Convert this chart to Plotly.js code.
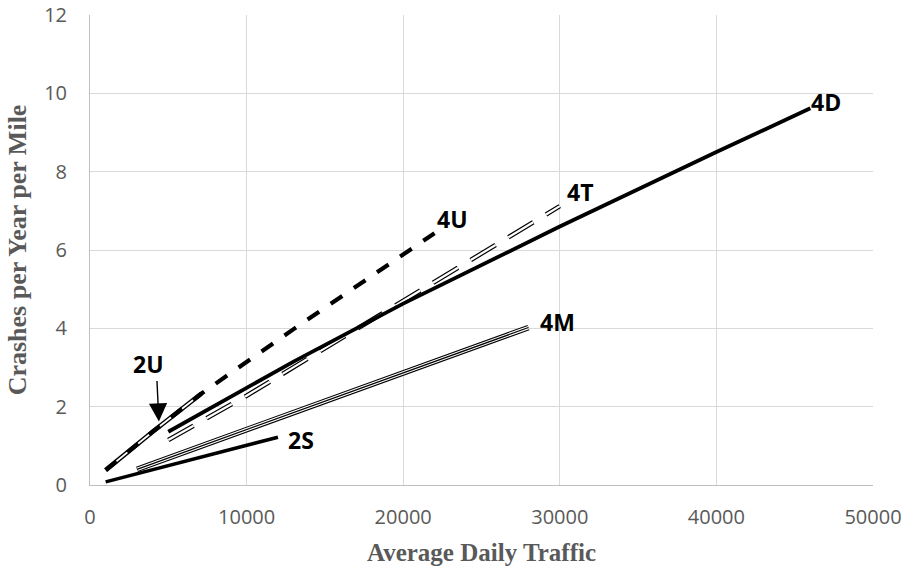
<!DOCTYPE html>
<html>
<head>
<meta charset="utf-8">
<script src="https://cdn.plot.ly/plotly-3.0.1.min.js"></script>
<style>
  html, body { margin: 0; padding: 0; background: #fff; }
  #chart { width: 904px; height: 571px; }
</style>
</head>
<body>
<div id="chart"></div>
<script>
// ---- Data ----
const adt2S = [1000, 6500, 12000];
const crash2S = [0.08, 0.64, 1.22];

const adt2U = [1000, 4000, 7100];
const crash2U = [0.38, 1.36, 2.33];

const adt4U = [1000, 4000, 7100, 13000, 22000];
const crash4U = [0.38, 1.36, 2.33, 3.98, 6.43];

const adt4M = [3000, 13400, 28000];
const crash4M = [0.40, 1.91, 4.02];

const adt4T = [5000, 10000, 19500, 30000];
const crash4T = [1.15, 2.28, 4.58, 7.12];

const adt4D = [5000, 13000, 20000, 30000, 40000, 46000];
const crash4D = [1.36, 3.15, 4.63, 6.60, 8.50, 9.62];

const seriesLabels = ['4D', '4T', '4U', '4M', '2S', '2U'];
const xTickVals = [0, 10000, 20000, 30000, 40000, 50000];
const yTickVals = [0, 2, 4, 6, 8, 10, 12];

// ---- Traces ----
function line(x, y, color, width, dash) {
  return {
    x: x, y: y, type: 'scatter', mode: 'lines', hoverinfo: 'skip',
    line: { color: color, width: width, dash: dash || 'solid', shape: 'linear' },
    showlegend: false
  };
}

const traces = [
  // 4M triple line
  line(adt4M, crash4M, '#000', 5.5),
  line(adt4M, crash4M, '#fff', 3.5),
  line(adt4M, crash4M, '#000', 1.2),
  // 2S solid
  line(adt2S, crash2S, '#000', 3.6),
  // 4T dashed double line
  line(adt4T, crash4T, '#000', 4.6, '29px,15px'),
  line(adt4T, crash4T, '#fff', 2.2, '29px,15px'),
  // 4D solid
  line(adt4D, crash4D, '#000', 3.8),
  // 2U double line
  line(adt2U, crash2U, '#000', 4.6),
  line(adt2U, crash2U, '#fff', 1.8),
  // 4U thick dashed
  line(adt4U, crash4U, '#000', 4.2, '14px,14px')
];

// ---- Labels ----
const labelFont = { family: 'Open Sans, sans-serif', size: 23, color: '#000', weight: 'bold' };
const labelPos = {
  '4D': [45900, 9.77],
  '4T': [30300, 7.49],
  '4U': [22000, 6.79],
  '4M': [28600, 4.17],
  '2S': [12500, 1.15],
  '2U': [2600, 3.10]
};
const annotations = seriesLabels.map(function (t) {
  return {
    x: labelPos[t][0], y: labelPos[t][1], xref: 'x', yref: 'y',
    text: '<b>' + t + '</b>', showarrow: false,
    xanchor: 'left', yanchor: 'middle', font: labelFont
  };
});
// arrow pointing to 2U curve
annotations.push({
  x: 4400, y: 1.62, xref: 'x', yref: 'y',
  ax: -2, ay: -42, axref: 'pixel', ayref: 'pixel',
  text: '', showarrow: true, arrowhead: 2, arrowsize: 2.6,
  arrowwidth: 1.4, arrowcolor: '#000'
});

const tickFont = { family: 'Open Sans, sans-serif', size: 20, color: '#595959' };
const titleFont = { family: 'Liberation Serif, Times New Roman, serif', size: 25, color: '#595959', weight: 'bold' };

const layout = {
  width: 904, height: 571,
  margin: { l: 90, r: 31, t: 15, b: 86 },
  paper_bgcolor: '#fff', plot_bgcolor: '#fff',
  showlegend: false,
  xaxis: {
    range: [0, 50000], tickvals: xTickVals, ticktext: xTickVals.map(String),
    showgrid: true, gridcolor: '#d9d9d9', gridwidth: 1,
    zeroline: false, showline: true, linecolor: '#bfbfbf', linewidth: 1,
    ticks: '', ticklabelstandoff: 14, tickfont: tickFont,
    title: { text: '<b>Average Daily Traffic</b>', font: titleFont, standoff: 14 },
    fixedrange: true
  },
  yaxis: {
    range: [0, 12], tickvals: yTickVals, ticktext: yTickVals.map(String),
    showgrid: true, gridcolor: '#d9d9d9', gridwidth: 1,
    zeroline: false, showline: true, linecolor: '#bfbfbf', linewidth: 1,
    ticks: '', ticklabelstandoff: 18, tickfont: tickFont,
    title: { text: '<b>Crashes per Year per Mile</b>', font: Object.assign({}, titleFont, { size: 26 }), standoff: 10 },
    fixedrange: true
  },
  annotations: annotations
};

Plotly.newPlot('chart', traces, layout, { staticPlot: true, displayModeBar: false });
</script>
</body>
</html>
